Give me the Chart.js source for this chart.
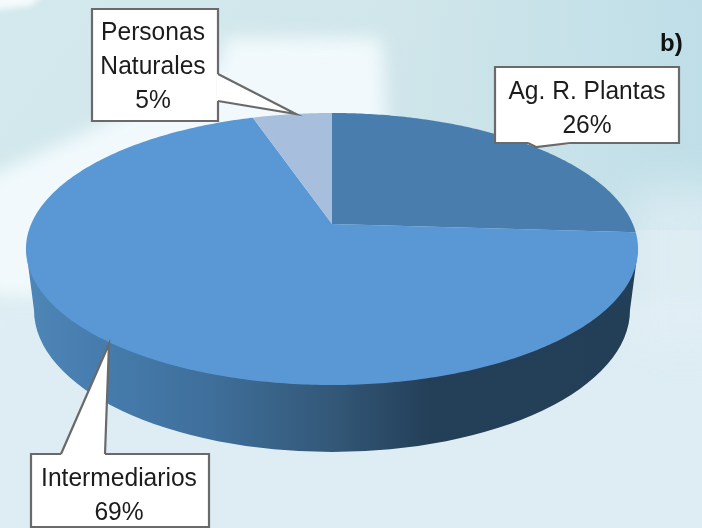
<!DOCTYPE html>
<html><head><meta charset="utf-8">
<style>html,body{margin:0;padding:0;background:#d8eaef}#w{width:702px;height:528px;overflow:hidden}canvas{display:block}</style>
<script src="https://cdn.jsdelivr.net/npm/chart.js@4"></script>
</head><body><div id="w"><canvas id="c" width="702" height="528"></canvas></div>
<script>
const categories = ["Ag. R. Plantas", "Intermediarios", "Personas Naturales"];
const shares = [26, 69, 5];
const sliceColors = ["#487dae", "#5a98d5", "#a8bedd"];
const labelLines = [["Ag. R. Plantas"], ["Intermediarios"], ["Personas", "Naturales"]];
const panelLabel = "b)";

// perspective of the pie top, relative to the library's radius
const persp = {dx: 1.343, dy: 0.5866, k: -0.1838};
function project(a, x0, y0, r) {
  const cx = Math.cos(a), sy = Math.sin(a), den = 1 + persp.k * sy;
  return [x0 + r * persp.dx * cx / den, y0 + r * persp.dy * sy / den];
}
Chart.ArcElement.prototype.draw = function (ctx) {
  const {x, y, startAngle, endAngle, outerRadius} = this;
  ctx.save();
  ctx.beginPath();
  ctx.moveTo(x, y);
  const steps = Math.max(8, Math.ceil((endAngle - startAngle) * 80));
  for (let i = 0; i <= steps; i++) {
    const p = project(startAngle + (endAngle - startAngle) * i / steps, x, y, outerRadius);
    ctx.lineTo(p[0], p[1]);
  }
  ctx.closePath();
  ctx.fillStyle = this.options.backgroundColor;
  ctx.fill();
  ctx.restore();
};

function paintBackground(ctx) {
  let g = ctx.createLinearGradient(0, 0, 702, 528);
  g.addColorStop(0, "#d4e9ed"); g.addColorStop(0.5, "#cfe5ea"); g.addColorStop(1, "#d6e8ee");
  ctx.fillStyle = g; ctx.fillRect(0, 0, 702, 528);
  g = ctx.createLinearGradient(0, 0, 702, 0);
  g.addColorStop(0.55, "rgba(190,222,231,0)"); g.addColorStop(1, "rgba(186,220,230,0.8)");
  ctx.fillStyle = g; ctx.fillRect(0, 0, 702, 230);
  ctx.save();
  ctx.filter = "blur(9px)";
  ctx.fillStyle = "#ddedf3";
  ctx.fillRect(-20, 300, 760, 250);
  ctx.fillStyle = "#f1f9fc";
  ctx.beginPath();
  ctx.moveTo(-30, 185); ctx.lineTo(90, 130); ctx.lineTo(220, 65); ctx.lineTo(225, 37); ctx.lineTo(382, 38);
  ctx.lineTo(386, 125); ctx.lineTo(300, 200); ctx.lineTo(40, 300); ctx.lineTo(-30, 295);
  ctx.closePath(); ctx.fill();
  ctx.filter = "blur(22px)";
  ctx.fillStyle = "rgba(226,240,245,0.7)";
  ctx.beginPath(); ctx.moveTo(630, 190); ctx.lineTo(740, 180); ctx.lineTo(740, 340); ctx.lineTo(630, 340); ctx.closePath(); ctx.fill();
  ctx.filter = "blur(3px)";
  ctx.fillStyle = "#f6fbfc";
  ctx.beginPath(); ctx.moveTo(-10, -10); ctx.lineTo(50, -10); ctx.lineTo(30, 6); ctx.lineTo(-10, 10); ctx.closePath(); ctx.fill();
  ctx.restore();
}

function paintSide(ctx) {
  const g = ctx.createLinearGradient(26, 0, 638, 0);
  g.addColorStop(0, "#4f86b8");
  g.addColorStop(0.13, "#457cad");
  g.addColorStop(0.3, "#3f6f9b");
  g.addColorStop(0.5, "#335878");
  g.addColorStop(0.66, "#243f58");
  g.addColorStop(1, "#233e57");
  ctx.save();
  ctx.fillStyle = g;
  ctx.beginPath();
  ctx.moveTo(26, 249);
  ctx.lineTo(34, 310);
  ctx.ellipse(332, 310, 298, 142, 0, Math.PI, 0, true);
  ctx.lineTo(638, 249);
  ctx.closePath();
  ctx.fill();
  ctx.restore();
}

const callouts = [
  {i: 2, box: [92, 9, 218, 121], base: [40, 74, 108], cx: 153, tail: [[218, 74], [296, 114], [218, 101]]},
  {i: 0, box: [495, 67, 679, 143], base: [99, 133], cx: 587, tail: [[528, 143], [536, 147], [570, 143]]},
  {i: 1, box: [31, 454, 209, 527], base: [486, 520], cx: 119, tail: [[61, 454], [109, 344], [105, 454]]}
];
function paintCallouts(ctx) {
  callouts.forEach(c => {
    const [x0, y0, x1, y1] = c.box;
    const [a, b, d] = c.tail;
    ctx.save();
    ctx.beginPath();
    ctx.rect(x0, y0, x1 - x0, y1 - y0);
    ctx.fillStyle = "#fff"; ctx.fill();
    ctx.strokeStyle = "#6a6a6a"; ctx.lineWidth = 2.2; ctx.stroke();
    // white fill opens the box border at the tail root, then the two tail sides are stroked
    ctx.beginPath();
    ctx.moveTo(a[0], a[1]); ctx.lineTo(b[0], b[1]); ctx.lineTo(d[0], d[1]);
    ctx.closePath(); ctx.fill();
    ctx.strokeStyle = "#fff"; ctx.lineWidth = 3;
    ctx.beginPath(); ctx.moveTo(a[0], a[1]); ctx.lineTo(d[0], d[1]); ctx.stroke();
    ctx.strokeStyle = "#6a6a6a"; ctx.lineWidth = 2.2;
    ctx.beginPath();
    ctx.moveTo(a[0], a[1]); ctx.lineTo(b[0], b[1]); ctx.lineTo(d[0], d[1]);
    ctx.stroke();
    const lines = labelLines[c.i].concat(shares[c.i] + "%");
    ctx.fillStyle = "#1c1c1c";
    ctx.textAlign = "center"; ctx.textBaseline = "alphabetic";
    ctx.font = '24.6px "Liberation Sans"';
    ctx.filter = "blur(0.4px)";
    lines.forEach((t, k) => {
      ctx.save();
      ctx.translate(c.cx, c.base[k]);
      ctx.scale(1, 1.08);
      ctx.fillText(t, 0, 0);
      ctx.restore();
    });
    ctx.restore();
  });
  ctx.save();
  ctx.fillStyle = "#111";
  ctx.font = 'bold 24px "Liberation Sans"';
  ctx.textAlign = "left";
  ctx.filter = "blur(0.4px)";
  ctx.fillText(panelLabel, 660, 51);
  ctx.restore();
}

new Chart(document.getElementById("c"), {
  type: "pie",
  data: {labels: categories, datasets: [{data: shares, backgroundColor: sliceColors, borderWidth: 0}]},
  options: {
    responsive: false, animation: false,
    layout: {padding: {left: 0, right: 38, top: 0, bottom: 80}},
    plugins: {legend: {display: false}, tooltip: {enabled: false}, title: {display: false}}
  },
  plugins: [{
    id: "scene",
    beforeDraw(chart) { paintBackground(chart.ctx); },
    beforeDatasetsDraw(chart) { paintSide(chart.ctx); },
    afterDatasetsDraw(chart) { paintCallouts(chart.ctx); }
  }]
});
</script></body></html>
